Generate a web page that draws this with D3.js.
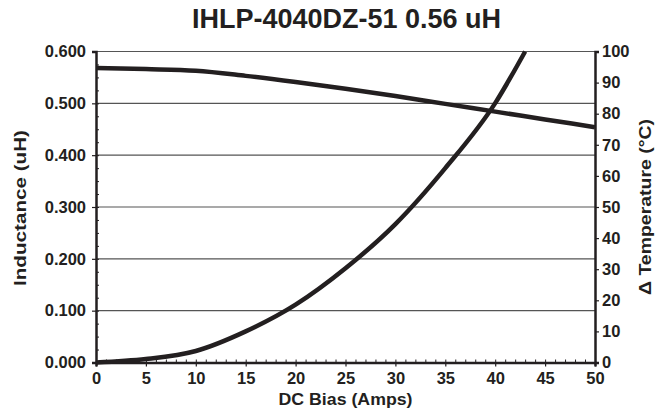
<!DOCTYPE html>
<html>
<head>
<meta charset="utf-8">
<script src="https://cdn.jsdelivr.net/npm/d3@7"></script>
<style>
  body { margin: 0; background: #fff; }
  text { font-family: "Liberation Sans", Arial, sans-serif; font-weight: bold; fill: #231f20; }
</style>
</head>
<body>
<div id="chart"></div>
<script>
var width = 661,
    height = 416;

var margin = { top: 51.5, right: 66, bottom: 53.5, left: 96 };

// data
var inductanceAmps = [0, 5, 10, 15, 20, 25, 30, 35, 40, 45, 50];
var inductance = [0.568, 0.566, 0.563, 0.553, 0.541, 0.528, 0.514, 0.499, 0.484, 0.469, 0.454];
var tempAmps = [0, 5, 10, 15, 20, 25, 30, 35, 40, 43];
var temperature = [0, 1.1, 3.7, 10.0, 18.6, 30.3, 44.5, 62.5, 83.4, 100];

var xTicks = [0, 5, 10, 15, 20, 25, 30, 35, 40, 45, 50];
var yLeftTicks = [0, 0.1, 0.2, 0.3, 0.4, 0.5, 0.6];
var yRightTicks = [0, 10, 20, 30, 40, 50, 60, 70, 80, 90, 100];

var svg = d3.select("#chart")
    .append("svg")
    .attr("width", width)
    .attr("height", height);

var w = width - margin.left - margin.right,
    h = height - margin.top - margin.bottom;

var g = svg.append("g").attr("transform", "translate(" + margin.left + "," + margin.top + ")");

var x = d3.scaleLinear().domain([0, 50]).range([0, w]);
var yL = d3.scaleLinear().domain([0, 0.6]).range([h, 0]);
var yR = d3.scaleLinear().domain([0, 100]).range([h, 0]);

// title
svg.append("text")
    .attr("x", margin.left + w / 2 + 1)
    .attr("y", 28)
    .attr("text-anchor", "middle")
    .style("font-size", "27px")
    .text("IHLP-4040DZ-51 0.56 uH");

// gridlines
g.append("g")
    .selectAll("line")
    .data(yLeftTicks.slice(1))
    .enter().append("line")
    .attr("x1", 0)
    .attr("x2", w)
    .attr("y1", function (d) { return yL(d); })
    .attr("y2", function (d) { return yL(d); })
    .attr("stroke", "#555")
    .attr("stroke-width", 1.2);

// minor ticks (inside)
g.append("g")
    .attr("transform", "translate(0," + h + ")")
    .call(d3.axisTop(x).tickValues(d3.range(1, 50)).tickSize(3).tickFormat(""))
    .call(function (a) { a.select(".domain").remove(); });

g.append("g")
    .call(d3.axisRight(yL).tickValues(d3.range(0.025, 0.6, 0.025)).tickSize(3).tickFormat(""))
    .call(function (a) { a.select(".domain").remove(); });

// x axis
var xAxis = g.append("g")
    .attr("transform", "translate(0," + h + ")")
    .call(d3.axisBottom(x).tickValues(xTicks).tickSize(4).tickPadding(6).tickFormat(d3.format("d")));

// left axis
var yAxisL = g.append("g")
    .call(d3.axisLeft(yL).tickValues(yLeftTicks).tickSize(4).tickPadding(6).tickFormat(d3.format(".3f")));

// right axis
var yAxisR = g.append("g")
    .attr("transform", "translate(" + w + ",0)")
    .call(d3.axisRight(yR).tickValues(yRightTicks).tickSize(4).tickPadding(3));

[xAxis, yAxisL, yAxisR].forEach(function (a) {
    a.select(".domain").attr("stroke", "#231f20").attr("stroke-width", 2.5);
    a.selectAll(".tick line").attr("stroke", "#231f20").attr("stroke-width", 1.2);
    a.selectAll(".tick text").style("font-size", "16.5px").attr("fill", "#231f20");
});
g.selectAll(".tick line").attr("stroke", "#231f20");

// curves
var lineL = d3.line()
    .x(function (d) { return x(d[0]); })
    .y(function (d) { return yL(d[1]); })
    .curve(d3.curveMonotoneX);

var lineR = d3.line()
    .x(function (d) { return x(d[0]); })
    .y(function (d) { return yR(d[1]); })
    .curve(d3.curveMonotoneX);

g.append("path")
    .datum(d3.zip(inductanceAmps, inductance))
    .attr("fill", "none")
    .attr("stroke", "#231f20")
    .attr("stroke-width", 4.5)
    .attr("d", lineL);

g.append("path")
    .datum(d3.zip(tempAmps, temperature))
    .attr("fill", "none")
    .attr("stroke", "#231f20")
    .attr("stroke-width", 4.5)
    .attr("d", lineR);

// axis titles
svg.append("text")
    .attr("x", margin.left + w / 2)
    .attr("y", 405)
    .attr("text-anchor", "middle")
    .style("font-size", "17px")
    .attr("textLength", 134)
    .attr("lengthAdjust", "spacingAndGlyphs")
    .text("DC Bias (Amps)");

svg.append("text")
    .attr("transform", "translate(26," + (margin.top + h / 2 + 1) + ")rotate(-90)")
    .attr("text-anchor", "middle")
    .style("font-size", "17px")
    .attr("textLength", 156)
    .attr("lengthAdjust", "spacingAndGlyphs")
    .text("Inductance (uH)");

svg.append("text")
    .attr("transform", "translate(651," + (margin.top + h / 2) + ")rotate(-90)")
    .attr("text-anchor", "middle")
    .style("font-size", "17px")
    .attr("textLength", 176)
    .attr("lengthAdjust", "spacingAndGlyphs")
    .text("\u0394 Temperature (\u00b0C)");
</script>
</body>
</html>
